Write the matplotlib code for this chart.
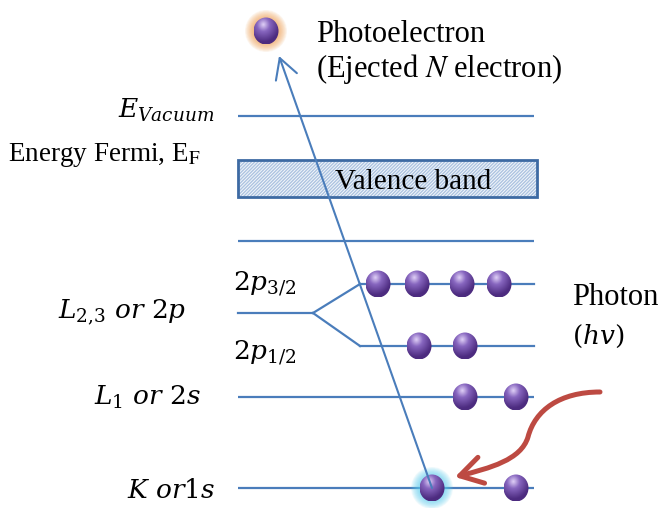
import numpy as np
import matplotlib
matplotlib.use("Agg")
import matplotlib.pyplot as plt
from matplotlib.patches import Ellipse, Rectangle, FancyArrowPatch, Circle
from matplotlib.path import Path

plt.rcParams['mathtext.fontset'] = 'stix'
plt.rcParams['font.family'] = ['Liberation Serif', 'DejaVu Serif']
plt.rcParams['hatch.linewidth'] = 1.0

# ---- data (pixel layout of the diagram) ----
level_names = ['vacuum', 'band_low', '2p3/2', '2p', '2p1/2', '2s', '1s']
level_y = [116, 241, 284, 313, 346, 397, 488]
full_x = (238, 534)
sub_x = (360, 534)
branch_x = 313

electrons_2p32 = [378, 417, 462, 499]
electrons_2p12 = [419, 465]
electrons_2s = [465, 516]
electrons_1s = [432, 516]
photoelectron = (266, 31)

blue = '#4a7dbb'

fig = plt.figure(figsize=(6.65, 5.08), dpi=100)
ax = fig.add_axes([0, 0, 1, 1])
ax.set_xlim(0, 665)
ax.set_ylim(508, 0)
ax.axis('off')

lw = 1.6
for y in [level_y[0], level_y[1], level_y[5], level_y[6]]:
    ax.plot(full_x, [y, y], color=blue, lw=lw, solid_capstyle='butt', zorder=2)
y2p = level_y[3]
ax.plot([full_x[0], branch_x], [y2p, y2p], color=blue, lw=lw, zorder=2)
ax.plot([branch_x, sub_x[0]], [y2p, level_y[2]], color=blue, lw=lw, zorder=2)
ax.plot([branch_x, sub_x[0]], [y2p, level_y[4]], color=blue, lw=lw, zorder=2)
ax.plot(sub_x, [level_y[2], level_y[2]], color=blue, lw=lw, zorder=2)
ax.plot(sub_x, [level_y[4], level_y[4]], color=blue, lw=lw, zorder=2)

# valence band
vb = (238, 160, 299, 37)
ax.add_patch(Rectangle((vb[0], vb[1]), vb[2], vb[3], facecolor='#f4f7fb',
                       edgecolor='#adc4e1', hatch='/' * 10, lw=0, zorder=1))
ax.add_patch(Rectangle((vb[0], vb[1]), vb[2], vb[3], facecolor='none',
                       edgecolor='#3d6aa3', lw=2.0, zorder=3))
ax.text(413, 189, 'Valence band', fontsize=21, ha='center', va='baseline', zorder=4)


def glow(x, y, color, rmax, rmin):
    for r in np.linspace(rmax, rmin, 12):
        ax.add_patch(Circle((x, y), r, facecolor=color, edgecolor='none',
                            alpha=0.09, zorder=4))


def sphere(x, y, w=25, h=27):
    n = 80
    u = np.linspace(-1, 1, n)
    X, Y = np.meshgrid(u, u)
    d = np.sqrt((X + 0.25) ** 2 + (Y + 0.45) ** 2)
    t = np.clip(d / 1.3, 0, 1)
    light = np.array([0.88, 0.82, 0.97])
    mid = np.array([0.53, 0.40, 0.75])
    dark = np.array([0.30, 0.17, 0.50])
    img = np.zeros((n, n, 3))
    for k in range(3):
        img[..., k] = np.where(t < 0.4,
                               light[k] + (mid[k] - light[k]) * (t / 0.4),
                               mid[k] + (dark[k] - mid[k]) * ((t - 0.4) / 0.6))
    im = ax.imshow(img, extent=(x - w / 2, x + w / 2, y + h / 2, y - h / 2),
                   origin='upper', zorder=5, interpolation='bilinear')
    clip = Ellipse((x, y), w, h, transform=ax.transData)
    im.set_clip_path(clip)


for ex in electrons_2p32:
    sphere(ex, level_y[2])
for ex in electrons_2p12:
    sphere(ex, level_y[4])
for ex in electrons_2s:
    sphere(ex, level_y[5])
glow(electrons_1s[0], level_y[6], '#5fd0f0', 21, 12)
for ex in electrons_1s:
    sphere(ex, level_y[6])
glow(photoelectron[0], photoelectron[1], '#f0a050', 21, 12)
sphere(photoelectron[0], photoelectron[1])

ax.set_xlim(0, 665)
ax.set_ylim(508, 0)

# photoelectron trajectory arrow
ax.add_patch(FancyArrowPatch((electrons_1s[0], level_y[6]), (279, 56),
                             arrowstyle='->,head_length=9,head_width=5',
                             mutation_scale=1.6, color=blue, lw=1.5, zorder=6,
                             shrinkA=0, shrinkB=0))

# incoming photon arrow (red curve)
verts = [(600, 392), (560, 392), (535, 410), (528, 437),
         (521, 460), (490, 468), (455, 477)]
codes = [Path.MOVETO] + [Path.CURVE4] * 6
ax.add_patch(FancyArrowPatch(path=Path(verts, codes),
                             arrowstyle='->,head_length=10,head_width=6',
                             mutation_scale=1.6, color='#bd4a42', lw=3.6, zorder=6,
                             capstyle='round', joinstyle='round'))

# texts
mf = 'dejavuserif'
ax.text(316, 42, 'Photoelectron', fontsize=22, va='baseline', ha='left')
ax.text(316, 77, '(Ejected $N$ electron)', fontsize=22, va='baseline', ha='left')
ax.text(214, 118, r'$E_{Vacuum}$', fontsize=19, va='baseline', ha='right',
        math_fontfamily=mf)
ax.text(8, 161, r'Energy Fermi, E$_{\mathrm{F}}$', fontsize=19.5, va='baseline', ha='left')
ax.text(233, 290, r'$2p_{3/2}$', fontsize=19, va='baseline', ha='left', math_fontfamily=mf)
ax.text(233, 359, r'$2p_{1/2}$', fontsize=19, va='baseline', ha='left', math_fontfamily=mf)
ax.text(186, 318, r'$L_{2{,}3}\ or\ 2p$', fontsize=19, va='baseline', ha='right',
        math_fontfamily=mf)
ax.text(201, 405, r'$L_{1}\ or\ 2s$', fontsize=19, va='baseline', ha='right',
        math_fontfamily=mf)
ax.text(215, 498, r'$K\ or 1s$', fontsize=19, va='baseline', ha='right',
        math_fontfamily=mf)
ax.text(572, 305, 'Photon', fontsize=22, va='baseline', ha='left')
ax.text(572, 344, r'$(hv)$', fontsize=19, va='baseline', ha='left', math_fontfamily=mf)

fig.savefig('out.png', dpi=100)
